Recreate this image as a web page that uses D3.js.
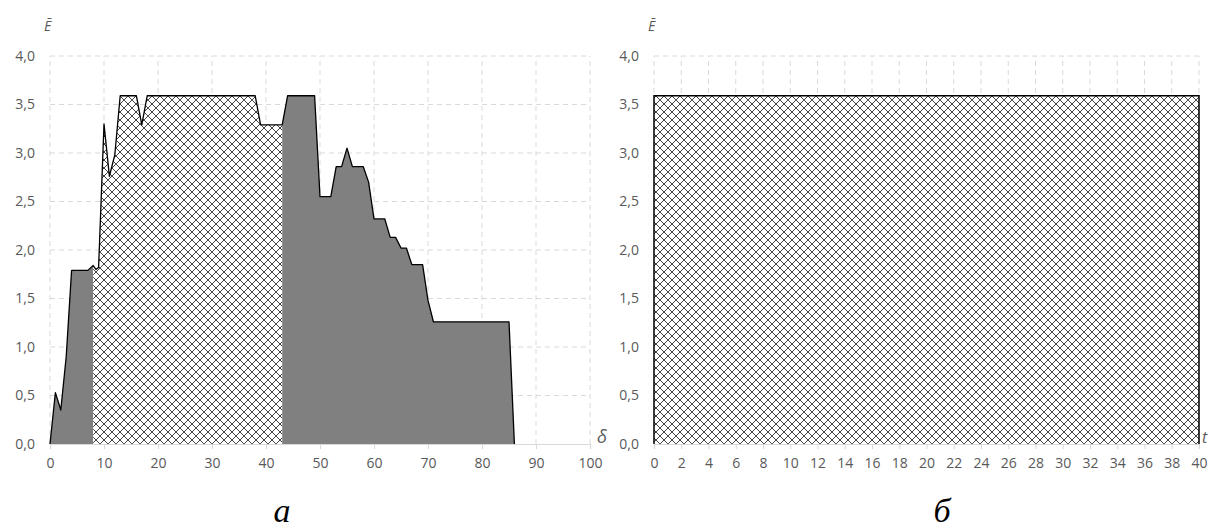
<!DOCTYPE html>
<html>
<head>
<meta charset="utf-8">
<script src="https://cdn.jsdelivr.net/npm/d3@7"></script>
<style>
  body { margin: 0; background: #fff; }
  svg { display: block; }
</style>
</head>
<body>
<div id="showBox"></div>
<script>
// left chart: E vs delta
const deltaVals = [0, 1, 2, 3, 4, 5, 6, 7, 8, 8.5, 9, 10, 11, 12, 13, 16, 17, 18, 38, 39, 43, 44, 49, 50, 52, 53, 54, 55, 56, 58, 59, 60, 62, 63, 64, 65, 66, 67, 69, 70, 71, 85, 86]
const eDelta = [0, 0.53, 0.35, 0.9, 1.79, 1.79, 1.79, 1.79, 1.84, 1.8, 1.82, 3.3, 2.76, 2.98, 3.59, 3.59, 3.29, 3.59, 3.59, 3.29, 3.29, 3.59, 3.59, 2.55, 2.55, 2.86, 2.86, 3.05, 2.86, 2.86, 2.7, 2.32, 2.32, 2.13, 2.13, 2.02, 2.02, 1.85, 1.85, 1.48, 1.26, 1.26, 0]
// zones along delta: solid grey / hatched
const zoneFrom = [0, 8, 43]
const zoneTo = [8, 43, 86]
const zoneKind = ["solid", "hatch", "solid"]

// right chart: E vs t
const tVals = [0, 0, 40, 40]
const eT = [0, 3.59, 3.59, 0]

const yTicks = [0, 0.5, 1, 1.5, 2, 2.5, 3, 3.5, 4]
const deltaTicks = [0, 10, 20, 30, 40, 50, 60, 70, 80, 90, 100]
const tTicks = d3.range(0, 41, 2)

const W = 1210, H = 531
const svg = d3.select("#showBox").append("svg").attr("width", W).attr("height", H)

const defs = svg.append("defs")
const pat = defs.append("pattern")
    .attr("id", "hatch")
    .attr("patternUnits", "userSpaceOnUse")
    .attr("width", 8).attr("height", 8)
pat.append("rect").attr("width", 8).attr("height", 8).attr("fill", "#fff")
pat.append("path")
    .attr("d", "M0,0L8,8M8,0L0,8M-1,7L1,9M7,-1L9,1")
    .attr("stroke", "#2a2a2a")
    .attr("stroke-width", 0.9)
pat.append("rect").attr("x", 3.5).attr("y", 3.5).attr("width", 1).attr("height", 1).attr("fill", "#777")

const fmt = d => d3.format(".1f")(d).replace(".", ",")
const y = d3.scaleLinear().domain([0, 4]).range([444, 56])
const FONT = "'Open Sans', sans-serif"

function frame(x, ticks, xLabel, xLabelX) {
    const [x0, x1] = x.range()
    const g = svg.append("g")

    g.append("g")
        .selectAll("line.h")
        .data(yTicks.slice(1))
        .join("line")
        .attr("x1", x0).attr("x2", x1)
        .attr("y1", d => y(d)).attr("y2", d => y(d))
        .attr("stroke", "#d9d9d9").attr("stroke-dasharray", "5,4")

    g.append("g")
        .selectAll("line.v")
        .data(ticks)
        .join("line")
        .attr("x1", d => x(d)).attr("x2", d => x(d))
        .attr("y1", y(0)).attr("y2", y(4))
        .attr("stroke", "#d9d9d9").attr("stroke-dasharray", "5,4")

    g.append("g")
        .selectAll("text")
        .data(yTicks)
        .join("text")
        .attr("x", x0 - 15)
        .attr("y", d => y(d))
        .attr("dy", "0.35em")
        .attr("text-anchor", "end")
        .style("font", `14px ${FONT}`)
        .attr("fill", "#595959")
        .text(fmt)

    g.append("text")
        .attr("x", x0 - 6).attr("y", 31)
        .style("font", `italic 14px ${FONT}`)
        .attr("fill", "#595959")
        .text("Ē")

    g.append("text")
        .attr("x", xLabelX).attr("y", 443)
        .style("font", `italic ${xLabel === "δ" ? 18 : 16}px ${FONT}`)
        .attr("fill", "#595959")
        .text(xLabel)

    return g
}

function axisBottom(g, x, ticks) {
    const ax = g.append("g")
        .attr("transform", `translate(0,${y(0)})`)
        .call(d3.axisBottom(x).tickValues(ticks).tickSize(5).tickPadding(9).tickFormat(d3.format("d")))
    ax.select(".domain").attr("stroke", "#d9d9d9").attr("stroke-width", 1.2)
    ax.selectAll(".tick line").attr("stroke", "#d9d9d9")
    ax.selectAll(".tick text")
        .attr("fill", "#595959")
        .style("font", `14px ${FONT}`)
}

// ---- left chart
const xD = d3.scaleLinear().domain([0, 100]).range([50, 590])
const gL = frame(xD, deltaTicks, "δ", 597)
const pts = deltaVals.map((d, i) => [d, eDelta[i]])
const area = x => d3.area().x(d => x(d[0])).y0(y(0)).y1(d => y(d[1]))

zoneFrom.forEach((f, i) => {
    const seg = pts.filter(p => p[0] >= f && p[0] <= zoneTo[i])
    gL.append("path")
        .attr("d", area(xD)(seg))
        .attr("fill", zoneKind[i] === "hatch" ? "url(#hatch)" : "#808080")
})
axisBottom(gL, xD, deltaTicks)
gL.append("path")
    .attr("d", d3.line().x(d => xD(d[0])).y(d => y(d[1]))(pts))
    .attr("fill", "none").attr("stroke", "#000").attr("stroke-width", 1.3)
    .attr("stroke-linejoin", "round")

// ---- right chart
const xT = d3.scaleLinear().domain([0, 40]).range([654, 1199])
const gR = frame(xT, tTicks, "t", 1202)
const tPts = tVals.map((d, i) => [d, eT[i]])
gR.append("path")
    .attr("d", area(xT)(tPts))
    .attr("fill", "url(#hatch)")
axisBottom(gR, xT, tTicks)
gR.append("path")
    .attr("d", d3.line().x(d => xT(d[0])).y(d => y(d[1]))(tPts))
    .attr("fill", "none").attr("stroke", "#000").attr("stroke-width", 1.5)

// captions
svg.append("g")
    .selectAll("text")
    .data([["а", 282], ["б", 942]])
    .join("text")
    .attr("x", d => d[1]).attr("y", 522)
    .attr("text-anchor", "middle")
    .style("font", "italic 34px 'Liberation Serif', 'DejaVu Serif', serif")
    .text(d => d[0])
</script>
</body>
</html>
